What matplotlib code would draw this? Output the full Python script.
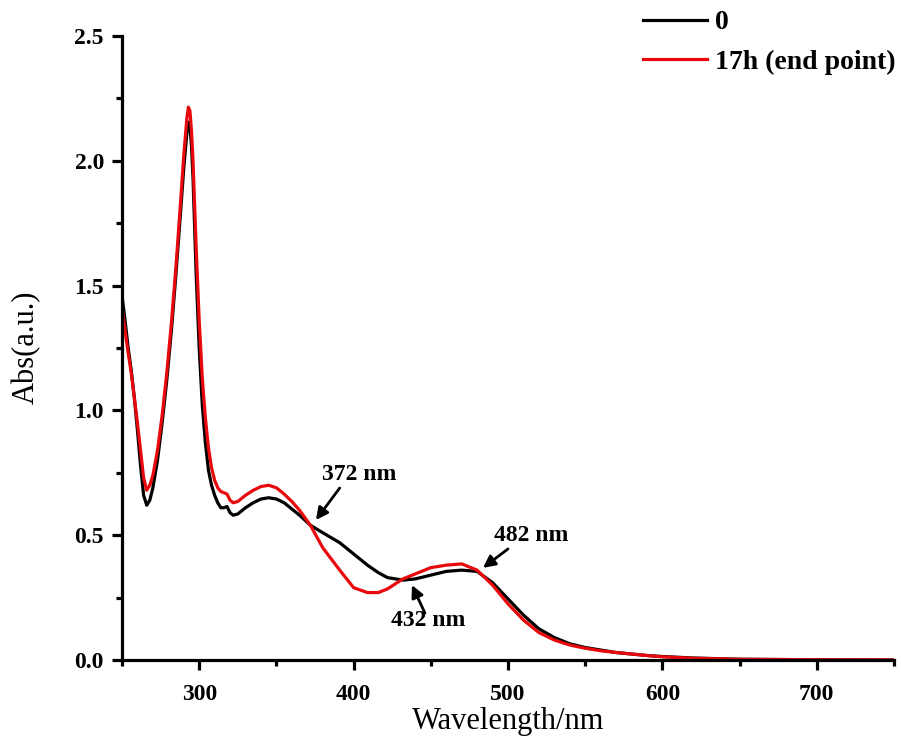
import matplotlib
matplotlib.use("Agg")
import matplotlib.pyplot as plt
from matplotlib.ticker import MultipleLocator, FormatStrFormatter

plt.rcParams['font.family'] = ['Liberation Serif', 'DejaVu Serif']

wavelength = [250, 252, 254, 256, 258, 260, 262, 264, 266, 268, 270, 273, 276, 279,
              282, 285, 288, 290, 292, 293, 294, 295, 296, 298, 300, 302, 304, 306, 308,
              310, 312, 314, 316, 318, 320, 322, 325, 330, 335, 340, 345, 350, 355,
              360, 365, 372, 380, 391, 400, 409, 416, 422, 432, 440, 450, 460, 470,
              480, 490, 500, 510, 520, 530, 540, 550, 560, 570, 580, 590, 600, 620,
              650, 700, 750]

abs_0h = [1.46, 1.36, 1.25, 1.16, 1.05, 0.92, 0.78, 0.66, 0.62, 0.64, 0.69, 0.80, 0.95, 1.12,
          1.32, 1.55, 1.80, 1.97, 2.11, 2.155, 2.14, 2.06, 1.93, 1.55, 1.25, 1.02, 0.87, 0.76, 0.70,
          0.66, 0.63, 0.61, 0.61, 0.615, 0.59, 0.58, 0.585, 0.61, 0.63, 0.645, 0.65, 0.645, 0.63,
          0.605, 0.58, 0.54, 0.51, 0.47, 0.425, 0.38, 0.35, 0.33, 0.32, 0.325, 0.34, 0.355, 0.36,
          0.355, 0.31, 0.245, 0.18, 0.125, 0.09, 0.065, 0.05, 0.04, 0.03, 0.024, 0.018, 0.014, 0.008,
          0.003, 0.001, 0.0]

abs_17h = [1.41, 1.32, 1.23, 1.15, 1.05, 0.95, 0.84, 0.73, 0.68, 0.70, 0.74, 0.84, 0.98, 1.15,
           1.35, 1.58, 1.84, 2.02, 2.17, 2.215, 2.20, 2.12, 2.00, 1.66, 1.36, 1.13, 0.97, 0.85, 0.77,
           0.72, 0.69, 0.675, 0.67, 0.665, 0.64, 0.63, 0.635, 0.66, 0.68, 0.695, 0.70, 0.69, 0.665,
           0.635, 0.60, 0.54, 0.45, 0.36, 0.29, 0.27, 0.27, 0.285, 0.325, 0.345, 0.37, 0.38, 0.385,
           0.36, 0.30, 0.225, 0.16, 0.11, 0.08, 0.06, 0.047, 0.037, 0.03, 0.024, 0.018, 0.013, 0.007,
           0.003, 0.001, 0.0]

series_labels = ["0", "17h (end point)"]
series_colors = ["#000000", "#e8090c"]

# (label, text centre, arrow tail, arrow tip) in data coordinates
annotations = [
    ("372 nm", (403.5, 0.745), (391.0, 0.689), (375.6, 0.561)),
    ("482 nm", (515.0, 0.497), (500.0, 0.445), (483.8, 0.369)),
    ("432 nm", (448.2, 0.160), (446.2, 0.188), (437.8, 0.300)),
]

fig = plt.figure(figsize=(9.01, 7.51), dpi=100)
ax = fig.add_axes([122/901, 91/751, (894-122)/901, (660-36)/751])

lines = []
for y, lab, col in zip([abs_0h, abs_17h], series_labels, series_colors):
    ln, = ax.plot(wavelength, y, color=col, lw=2.3, label=lab, solid_joinstyle='round')
    lines.append(ln)

ax.set_xlim(250, 750)
ax.set_ylim(0, 2.5)
ax.xaxis.set_major_locator(MultipleLocator(100))
ax.xaxis.set_minor_locator(MultipleLocator(50))
ax.yaxis.set_major_locator(MultipleLocator(0.5))
ax.yaxis.set_minor_locator(MultipleLocator(0.25))
ax.yaxis.set_major_formatter(FormatStrFormatter('%.1f'))

for s in ['top', 'right']:
    ax.spines[s].set_visible(False)
for s in ['left', 'bottom']:
    ax.spines[s].set_linewidth(2.3)

ax.tick_params(which='major', direction='out', length=7, width=2.3, labelsize=17)
ax.tick_params(which='minor', direction='out', length=4.5, width=2.3)
ax.xaxis.set_tick_params(which='major', pad=10)
ax.yaxis.set_tick_params(which='major', pad=6)
for lbl in ax.get_xticklabels() + ax.get_yticklabels():
    lbl.set_fontweight('bold')

ax.set_xlabel("Wavelength/nm", fontsize=22, va='center')
ax.xaxis.set_label_coords(0.5, (660 - 721) / 624)
ax.set_ylabel("Abs(a.u.)", fontsize=22, va='center')
ax.yaxis.set_label_coords((26 - 122) / 772, (660 - 347) / 624)

for text, tpos, tail, tip in annotations:
    ax.text(tpos[0], tpos[1], text, ha='center', va='center',
            fontsize=17, fontweight='bold')
    ax.annotate("", xy=tip, xytext=tail,
                arrowprops=dict(arrowstyle='-|>', color='black', lw=2,
                                mutation_scale=18, shrinkA=0, shrinkB=0))

fig.legend(handles=lines, labels=series_labels, loc='upper left',
           bbox_to_anchor=(643/901, 1 - 10/751), frameon=False,
           borderpad=0, borderaxespad=0, handlelength=2.3, handletextpad=0.3,
           labelspacing=0.5, prop={'weight': 'bold', 'size': 20})

fig.savefig("out.png", dpi=100)
